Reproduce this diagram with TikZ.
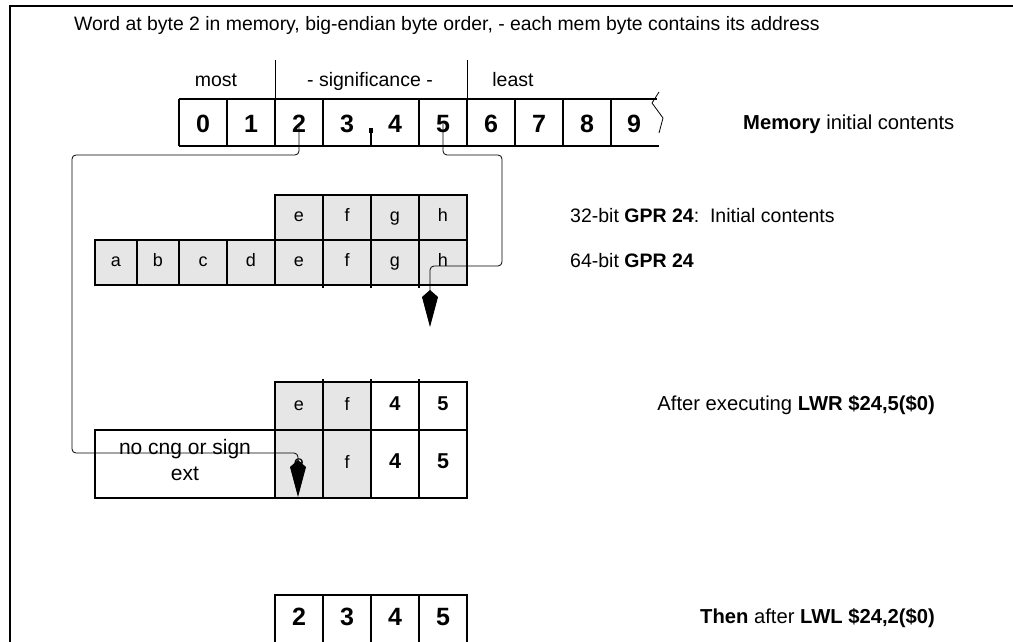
\documentclass[tikz,border=0pt]{standalone}
\usepackage{fontspec}
\setmainfont{Liberation Sans}
\usetikzlibrary{arrows.meta}
\definecolor{cellgray}{HTML}{E6E6E6}
\tikzset{
  cellbox/.style={draw, line width=1.8pt, inner sep=0pt, minimum width=48pt, minimum height=45pt,
    text height=10pt, text depth=2pt, font=\fontsize{18}{18}\selectfont},
  graycell/.style={cellbox, fill=cellgray},
  digitcell/.style={cellbox, font=\fontsize{20}{20}\selectfont\bfseries, text height=14pt, text depth=6pt},
  bigdigitcell/.style={cellbox, font=\fontsize{21.5}{22}\selectfont\bfseries, text height=14pt, text depth=6pt},
  memdigit/.style={inner sep=0pt, anchor=base, font=\fontsize{25}{25}\selectfont\bfseries},
  lbl/.style={inner sep=0pt, font=\fontsize{19.5}{20}\selectfont},
  rlbl/.style={inner sep=0pt, font=\fontsize{20.2}{21}\selectfont},
  gridline/.style={line width=1.8pt},
  thinline/.style={line width=0.8pt},
  conn/.style={line width=0.8pt, rounded corners=4pt, -{Kite[length=37pt,width=16pt,inset=7pt]}},
}
\begin{document}
\begin{tikzpicture}[x=1pt,y=-1pt]
\useasboundingbox (0,0) rectangle (1013,642);
\clip (0,0) rectangle (1013,642);
% frame
\draw[line width=2pt] (10,700) -- (10,6) -- (1050,6);
% title
\node[lbl, anchor=base west, font=\fontsize{19.4}{20}\selectfont] (title) at (74,31)
  {Word at byte 2 in memory, big-endian byte order, - each mem byte contains its address};
% significance labels
\node[lbl, anchor=base] (most) at (216,87) {most};
\node[lbl, anchor=base] (signif) at (370,87) {- significance -};
\node[lbl, anchor=base] (least) at (513,87) {least};
\draw[thinline] (275,60) -- (275,99);
\draw[thinline] (467,60) -- (467,99);
% memory row
\draw[gridline] (179,99) -- (657,99);
\draw[gridline] (179,146) -- (659,146);
\foreach \x in {179,227,275,323,419,467,515,563,611} \draw[gridline] (\x,99) -- (\x,146);
\draw[gridline] (371,130) -- (371,146);
\fill (369,128) rectangle (373,133);
\draw[thinline] (659,92) -- (652,103) -- (663,118) -- (659,133);
\node[memdigit] (m0) at (203,132) {0};
\node[memdigit] (m1) at (251,132) {1};
\node[memdigit] (m2) at (299,132) {2};
\node[memdigit] (m3) at (347,132) {3};
\node[memdigit] (m4) at (395,132) {4};
\node[memdigit] (m5) at (443,132) {5};
\node[memdigit] (m6) at (491,132) {6};
\node[memdigit] (m7) at (539,132) {7};
\node[memdigit] (m8) at (587,132) {8};
\node[memdigit] (m9) at (634,132) {9};
\node[rlbl, anchor=base west] (memlbl) at (743,129) {\textbf{Memory} initial contents};
% 32-bit GPR
\node[graycell] (ga) at (299,217.5) {e};
\node[graycell] (gb) at (347,217.5) {f};
\node[graycell] (gc) at (395,217.5) {g};
\node[graycell] (gd) at (443,217.5) {h};
\node[lbl, anchor=base west] (g32lbl) at (570,222) {32-bit \textbf{GPR 24}:\ \ Initial contents};
% 64-bit GPR
\node[graycell, minimum width=42pt] (ha) at (116,262.5) {a};
\node[graycell, minimum width=42pt] (hb) at (158,262.5) {b};
\node[graycell] (hc) at (203,262.5) {c};
\node[graycell] (hd) at (251,262.5) {d};
\node[graycell] (he) at (299,262.5) {e};
\node[graycell] (hf) at (347,262.5) {f};
\node[graycell] (hg) at (395,262.5) {g};
\node[graycell] (hh) at (443,262.5) {h};
\foreach \x in {323,371,419} \draw[gridline] (\x,284) -- (\x,288);
\node[lbl, anchor=base west] (g64lbl) at (570,267) {64-bit \textbf{GPR 24}};
% after LWR
\node[graycell, minimum height=48pt] (ra) at (299,406) {e};
\node[graycell, minimum height=48pt] (rb) at (347,406) {f};
\node[digitcell, minimum height=48pt] (rc) at (395,406) {4};
\node[digitcell, minimum height=48pt] (rd) at (443,406) {5};
\foreach \x in {323,371,419} \draw[gridline] (\x,379) -- (\x,383);
\node[rlbl, anchor=base east] (lwrlbl) at (935,410) {After executing \textbf{LWR \$24,5(\$0)}};
\node[cellbox, minimum width=180pt, minimum height=68pt] (sa) at (185,464) {};
\node[lbl, anchor=base, font=\fontsize{21}{22}\selectfont] (ext1) at (185,454) {no cng or sign};
\node[lbl, anchor=base, font=\fontsize{21}{22}\selectfont] (ext2) at (185,480) {ext};
\node[graycell, minimum height=68pt] (sb) at (299,464) {e};
\node[graycell, minimum height=68pt] (sc) at (347,464) {f};
\node[bigdigitcell, minimum height=68pt] (sd) at (395,464) {4};
\node[bigdigitcell, minimum height=68pt] (se) at (443,464) {5};
% then after LWL
\draw[gridline] (275,680) |- (467,595) -- (467,680);
\foreach \x in {323,371,419} \draw[gridline] (\x,595) -- (\x,680);
\node[memdigit] (f2) at (299,625) {2};
\node[memdigit] (f3) at (347,625) {3};
\node[memdigit] (f4) at (395,625) {4};
\node[memdigit] (f5) at (443,625) {5};
\node[rlbl, anchor=base east] (lwllbl) at (935,623) {\textbf{Then} after \textbf{LWL \$24,2(\$0)}};
% connectors
\coordinate (tipA) at (430,327);
\coordinate (tipB) at (298,497);
\draw[conn] (m5.center) |- (502,155) |- (430,266) -- (tipA);
\draw[conn] (m2.center) |- (72,155) |- (298,453) -- (tipB);
\end{tikzpicture}
\end{document}
